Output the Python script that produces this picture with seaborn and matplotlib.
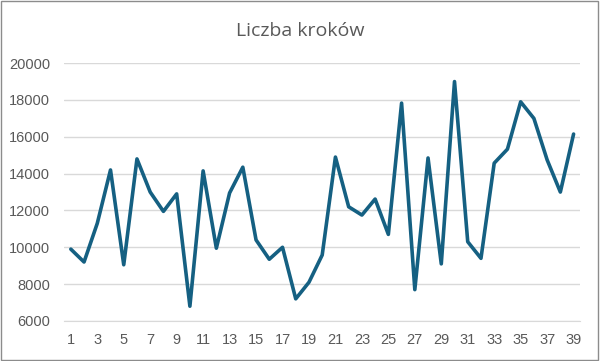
import numpy as np
import pandas as pd
import matplotlib
matplotlib.use("Agg")
import matplotlib.pyplot as plt
import seaborn as sns
from matplotlib.patches import Rectangle

# Dane
dni = list(range(1, 40))
kroki = [9900, 9200, 11300, 14200, 9050, 14800, 13000, 11950, 12900, 6800,
         14150, 9950, 12950, 14350, 10400, 9350, 10000, 7200, 8100, 9580,
         14900, 12200, 11750, 12620, 10700, 17830, 7700, 14850, 9100, 19000,
         10300, 9400, 14570, 15330, 17900, 17000, 14750, 13000, 16150]
yticks = list(range(6000, 20001, 2000))

df = pd.DataFrame({'Dzien': dni, 'Kroki': kroki})

sns.set_style('white')
plt.rcParams['font.family'] = ['Liberation Sans', 'DejaVu Sans']

fig = plt.figure(figsize=(6, 3.61), dpi=100)
ax = fig.add_axes([0.107, 0.111, 0.86, 0.714])

sns.lineplot(data=df, x='Dzien', y='Kroki', color='#156082', linewidth=2.6, ax=ax)

ax.set_xlim(0.5, 39.5)
ax.set_ylim(6000, 20000)
ax.set_yticks(yticks)
ax.set_yticklabels([str(v) for v in yticks], color='#595959', fontsize=10.5)
ax.set_xticks(dni[::2])
ax.set_xticklabels([str(d) for d in dni[::2]], color='#595959', fontsize=10.5)
ax.tick_params(axis='y', length=0, pad=10)
ax.tick_params(axis='x', length=0, pad=9)
ax.grid(axis='y', color='#D9D9D9', linewidth=1)
ax.set_axisbelow(True)
for s in ['top', 'left', 'right']:
    ax.spines[s].set_visible(False)
ax.spines['bottom'].set_color('#D9D9D9')
ax.set_xlabel('')
ax.set_ylabel('')

fig.text(0.5, 0.915, 'Liczba kroków', ha='center', va='center', fontsize=14,
         color='#595959', family=['Open Sans', 'DejaVu Sans'])
fig.patches.append(Rectangle((0.002, 0.003), 0.995, 0.993, transform=fig.transFigure,
                             fill=False, edgecolor='#8C8C8C', linewidth=1))

fig.savefig('out.png', dpi=100)
